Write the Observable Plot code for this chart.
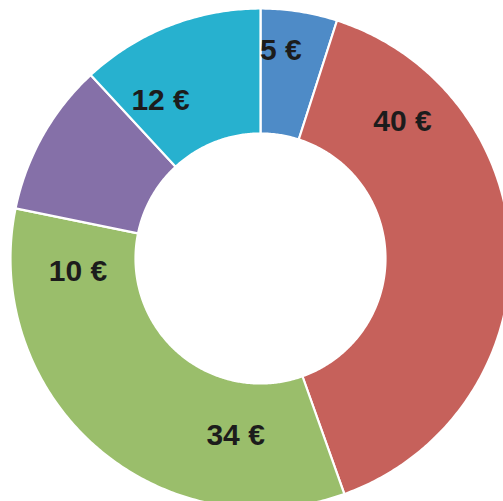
<!DOCTYPE html>
<html><head><meta charset="utf-8">
<script src="https://cdn.jsdelivr.net/npm/d3@7"></script>
<script src="https://cdn.jsdelivr.net/npm/@observablehq/plot@0.6"></script>
<style>html,body{margin:0;padding:0;background:#fff;overflow:hidden}</style>
</head><body><div id="chart"></div>
<script>
// ---- data ----
const categories = ["A", "B", "C", "D", "E"];
const values = [5, 40, 34, 10, 12];
const labels = ["5 €", "40 €", "34 €", "10 €", "12 €"];
const colors = ["#4e8bc7", "#c6615b", "#9abe6b", "#8570a8", "#27b1cf"];

// ---- layout (label anchors as in the reference: degrees clockwise from top, radius in outer-radius units) ----
const labelAngles = [5.6, 46, 188, 265.9, 327.7];
const labelRadii = [0.836, 0.789, 0.715, 0.732, 0.748];
const innerR = 0.5, outerR = 1;

const total = d3.sum(values);
let acc = 0;
const slices = categories.map((c, i) => {
  const a0 = acc / total * 2 * Math.PI;
  acc += values[i];
  const a1 = acc / total * 2 * Math.PI;
  return {cat: c, a0, a1};
});
const pts = [];
for (const s of slices) {
  const n = Math.max(4, Math.ceil((s.a1 - s.a0) / 0.01));
  const ring = [];
  for (let k = 0; k <= n; k++) { const a = s.a0 + (s.a1 - s.a0) * k / n; ring.push([outerR * Math.sin(a), outerR * Math.cos(a)]); }
  for (let k = n; k >= 0; k--) { const a = s.a0 + (s.a1 - s.a0) * k / n; ring.push([innerR * Math.sin(a), innerR * Math.cos(a)]); }
  ring.push(ring[0]);
  for (const [x, y] of ring) pts.push({cat: s.cat, x, y});
}
const labelData = categories.map((c, i) => {
  const a = labelAngles[i] * Math.PI / 180;
  return {cat: c, text: labels[i], x: labelRadii[i] * Math.sin(a), y: labelRadii[i] * Math.cos(a)};
});

const W = 503, H = 501, cx = 260, cy = 258, R = 250;
const chart = Plot.plot({
  width: W, height: H, margin: 0,
  x: {domain: [-cx / R, (W - cx) / R], axis: null},
  y: {domain: [-(H - cy) / R, cy / R], axis: null},
  color: {domain: categories, range: colors},
  style: {background: "#fff", fontFamily: "Liberation Sans, Arial, sans-serif"},
  marks: [
    Plot.line(pts, {x: "x", y: "y", z: "cat", fill: "cat", stroke: "white", strokeWidth: 2.2, curve: "linear"}),
    Plot.text(labelData, {x: "x", y: "y", text: "text", fill: "#1c1c1c", fontSize: 30, fontWeight: "bold", textAnchor: "middle", lineAnchor: "middle"})
  ]
});
document.getElementById("chart").appendChild(chart);
</script>
</body></html>
